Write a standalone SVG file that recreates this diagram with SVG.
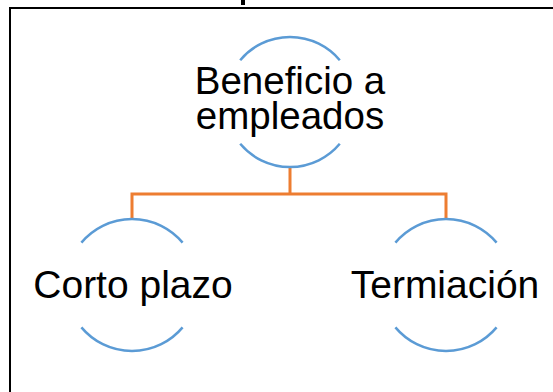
<svg xmlns="http://www.w3.org/2000/svg" width="553" height="392" viewBox="0 0 553 392">
<style>
.arc{fill:none;stroke:#5B9BD5;stroke-width:2.5}
.con{fill:none;stroke:#ED7D31;stroke-width:3}
.lbl{font-family:"Liberation Sans",Arial,sans-serif;font-size:39px;fill:#000;text-anchor:middle}
.top{font-size:38.5px}
</style>
<rect x="0" y="0" width="553" height="392" fill="#fff"/>
<rect x="10" y="8" width="560" height="400" fill="none" stroke="#000" stroke-width="2"/>
<rect x="241" y="0" width="4" height="5" fill="#000"/>
<g id="connectors">
<path class="con" d="M290,168 V194"/>
<path class="con" d="M132,219 V194 H446 V219"/>
</g>
<g id="node-root">
<path class="arc" d="M240.2,60.2 A65,65 0 0 1 339.8,60.2"/>
<path class="arc" d="M240.2,143.8 A65,65 0 0 0 339.8,143.8"/>
<text class="lbl top" x="290" y="94"><tspan x="290" y="94">Beneficio a</tspan><tspan x="290" y="129">empleados</tspan></text>
</g>
<g id="node-corto">
<path class="arc" d="M81.4,242.6 A66,66 0 0 1 182.6,242.6"/>
<path class="arc" d="M81.4,327.4 A66,66 0 0 0 182.6,327.4"/>
<text class="lbl" x="133" y="298">Corto plazo</text>
</g>
<g id="node-term">
<path class="arc" d="M395.4,242.6 A66,66 0 0 1 496.6,242.6"/>
<path class="arc" d="M395.4,327.4 A66,66 0 0 0 496.6,327.4"/>
<text class="lbl" x="445" y="298">Termiación</text>
</g>
</svg>
